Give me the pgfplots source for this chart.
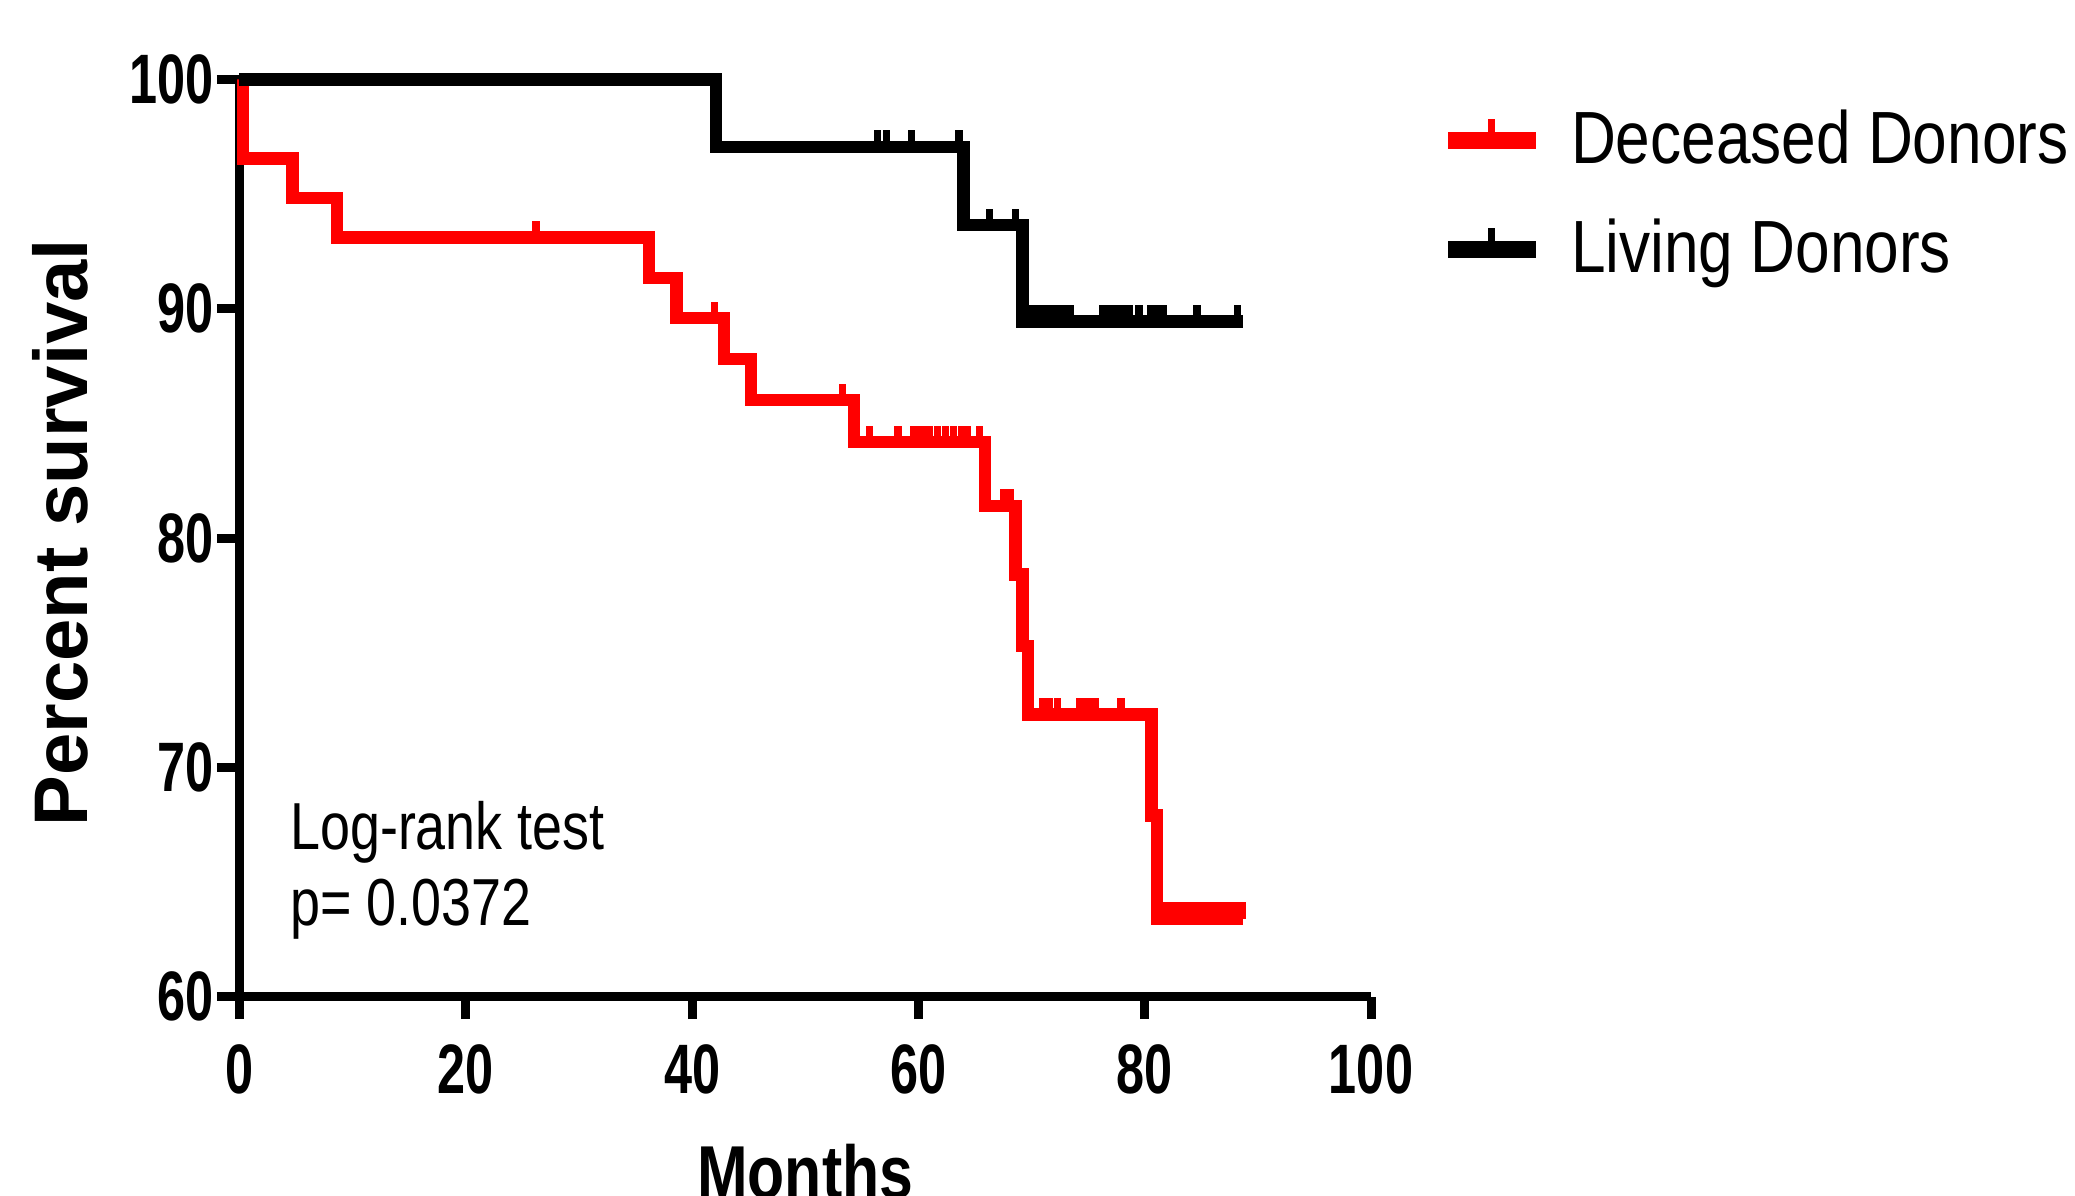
\documentclass[border=0pt]{standalone}
\usepackage{fontspec}
\setmainfont{Liberation Sans}
\newfontfamily\tickfont{Liberation Sans}[FakeStretch=0.72]
\newfontfamily\legfont{Liberation Sans}[FakeStretch=0.84]
\newfontfamily\txtfont{Liberation Sans}[FakeStretch=0.81]
\usepackage{pgfplots}
\pgfplotsset{compat=1.18}

\definecolor{kmred}{RGB}{255,0,0}

% censor tick: short vertical stroke going up from the curve
\pgfdeclareplotmark{ctick}{%
  \pgfpathmoveto{\pgfpointorigin}%
  \pgfpathlineto{\pgfpoint{0pt}{3.3pt}}%
  \pgfusepathqstroke}

\begin{document}
\begin{tikzpicture}
\begin{axis}[
  at={(0pt,0pt)}, anchor=south west,
  scale only axis, width=226.3pt, height=183.4pt,
  xmin=0, xmax=100, ymin=60, ymax=100,
  axis x line*=bottom, axis y line*=left,
  axis line style={-, line width=1.8pt},
  xtick={0,20,...,100}, ytick={60,70,...,100},
  tick align=outside, major tick length=4.5pt,
  tick style={black, line width=1.8pt},
  /pgf/number format/assume math mode=true,
  ticklabel style={font=\tickfont\bfseries\fontsize{14}{16}\selectfont, inner sep=0pt},
  yticklabel style={xshift=-0.5pt},
  xticklabel style={yshift=-5pt},
  xlabel={Months}, ylabel={Percent survival},
  xlabel style={at={(axis description cs:0.5,-0.16)}, anchor=north, inner sep=0pt,
    font=\txtfont\bfseries\fontsize{15}{17}\selectfont},
  ylabel style={at={(axis description cs:-0.134,0.506)}, anchor=base, inner sep=0pt,
    font=\bfseries\fontsize{15.2}{17}\selectfont},
  clip=false,
  legend cell align=left,
  legend style={draw=none, fill=none, at={(axis description cs:1.0597,0.968)},
    anchor=north west, inner sep=0pt, row sep=9.5pt, column sep=5.4pt,
    nodes={inner sep=0pt},
    font=\legfont\fontsize{14.8}{17}\selectfont},
  legend image code/.code={
    \draw[#1, line width=3.4pt] (0pt,0pt) -- (17.5pt,0pt);
    \draw[#1, line width=1.5pt] (8.7pt,0pt) -- (8.7pt,4.2pt);
  },
]
% Deceased donors
\addplot[kmred, line width=2.5pt, const plot, mark=none] coordinates {
  (0,100) (0.3,96.55) (4.7,94.83) (8.6,93.10) (36.2,91.35) (38.6,89.59)
  (42.8,87.80) (45.2,86.01) (54.3,84.18) (65.9,81.4) (68.6,78.4)
  (69.2,75.3) (69.7,72.3) (80.6,67.9) (81.1,63.4) (88.7,63.4)
};
\addlegendentry{Deceased Donors}
% Living donors
\addplot[black, line width=2.5pt, const plot, mark=none] coordinates {
  (0,100) (42.1,97.06) (64.0,93.65) (69.2,89.45) (88.7,89.45)
};
\addlegendentry{Living Donors}

% censored observations
\addplot[kmred, only marks, mark=ctick, mark options={line width=1.5pt}, forget plot] coordinates {
  (26.2,93.10) (42.0,89.59) (53.3,86.01)
  (55.7,84.18) (58.2,84.18) (59.6,84.18) (60.3,84.18) (61.0,84.18) (61.7,84.18)
  (62.4,84.18) (63.1,84.18) (63.8,84.18) (64.3,84.18) (65.4,84.18)
  (67.5,81.4) (68.1,81.4)
  (71.0,72.3) (71.6,72.3) (72.3,72.3) (74.3,72.3) (74.9,72.3) (75.6,72.3) (77.9,72.3)
  (81.6,63.4) (82.1,63.4) (82.6,63.4) (83.1,63.4) (83.6,63.4) (84.1,63.4) (84.6,63.4)
  (85.1,63.4) (85.6,63.4) (86.1,63.4) (86.6,63.4) (87.1,63.4) (87.6,63.4) (88.1,63.4)
  (88.6,63.4)
};
\addplot[black, only marks, mark=ctick, mark options={line width=1.5pt}, forget plot] coordinates {
  (56.4,97.06) (57.2,97.06) (59.4,97.06) (63.6,97.06)
  (66.3,93.65) (68.6,93.65)
  (70.0,89.45) (70.6,89.45) (71.2,89.45) (71.8,89.45) (72.4,89.45) (73.0,89.45) (73.4,89.45)
  (76.3,89.45) (76.9,89.45) (77.5,89.45) (78.1,89.45) (78.6,89.45) (79.5,89.45)
  (80.5,89.45) (81.0,89.45) (81.6,89.45) (84.6,89.45) (88.2,89.45)
};

\node[anchor=base west, inner sep=0pt, font=\txtfont\fontsize{13.3}{15}\selectfont]
  at (axis cs:4.4,66.4) {Log-rank test};
\node[anchor=base west, inner sep=0pt, font=\txtfont\fontsize{13.3}{15}\selectfont]
  at (axis cs:4.4,63.1) {p= 0.0372};
\end{axis}
\pgfresetboundingbox
\path[use as bounding box] (-47.9pt,-39.7pt) rectangle (367.1pt,199.3pt);
\end{tikzpicture}
\end{document}
